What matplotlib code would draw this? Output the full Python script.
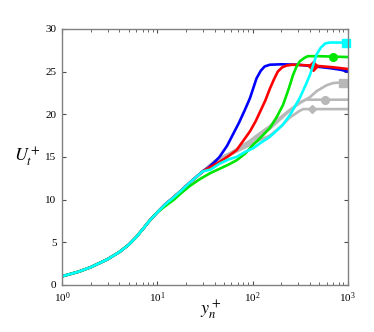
import matplotlib
matplotlib.use('Agg')
import matplotlib.pyplot as plt

plt.rcParams['font.family'] = 'serif'
plt.rcParams['font.serif'] = ['Liberation Serif']
plt.rcParams['mathtext.fontset'] = 'stix'

## profil commun (proche paroi)
base_yp = [1, 1.5, 2, 3, 4, 5, 6, 7, 8.4, 10, 12, 15, 18, 22, 26, 30]
base_U = [1.0, 1.55, 2.07, 3.0, 3.85, 4.7, 5.6, 6.5, 7.6, 8.5, 9.4, 10.3, 11.1, 12.0, 12.7, 13.3]

## suites de chaque courbe
blue_yp = [34, 40, 45, 54, 62, 72, 83, 94, 110, 122, 134, 152, 200, 300, 450, 650, 850, 1000]
blue_U = [13.7, 14.4, 15.0, 16.3, 17.6, 19.0, 20.5, 21.9, 24.2, 25.1, 25.6, 25.8, 25.85, 25.8, 25.6, 25.4, 25.2, 25.0]

red_yp = [36, 45, 56, 68, 80, 94, 108, 120, 136, 152, 168, 184, 205, 228, 260, 433, 700, 1000]
red_U = [13.8, 14.4, 15.1, 15.8, 16.9, 18.0, 19.2, 20.3, 21.6, 23.0, 24.1, 25.0, 25.5, 25.7, 25.8, 25.7, 25.5, 25.3]

green_base_yp = [12, 15, 18, 22, 28, 36, 45, 56]
green_base_U = [9.2, 10.0, 10.8, 11.6, 12.4, 13.1, 13.6, 14.1]
green_yp = [68, 84, 101, 125, 152, 180, 209, 240, 266, 290, 313, 350, 380, 500, 700, 1000]
green_U = [14.6, 15.4, 16.4, 17.4, 18.4, 19.7, 21.1, 23.0, 24.6, 25.6, 26.2, 26.6, 26.8, 26.8, 26.75, 26.7]

cyan_yp = [36, 45, 56, 68, 84, 101, 120, 150, 180, 209, 250, 313, 360, 400, 440, 470, 520, 580, 650, 1000]
cyan_U = [13.5, 14.2, 14.7, 15.0, 15.6, 16.0, 16.6, 17.3, 18.1, 18.8, 20.0, 21.9, 23.4, 24.6, 26.0, 27.0, 27.8, 28.3, 28.4, 28.4]

grayA_yp = [40, 62, 94, 120, 152, 200, 245, 313, 400, 470, 600, 700, 800, 1000]
grayA_U = [14.5, 15.6, 16.9, 17.8, 18.6, 19.7, 20.5, 21.3, 22.0, 22.7, 23.4, 23.65, 23.7, 23.7]
grayA_mark = (890, 23.7)

grayB_yp = [40, 62, 94, 120, 152, 200, 245, 313, 360, 1000]
grayB_U = [14.5, 15.6, 16.7, 17.5, 18.3, 19.5, 20.4, 21.4, 21.7, 21.7]
grayB_mark = (575, 21.7)

grayC_yp = [40, 62, 94, 120, 152, 200, 245, 313, 340, 1000]
grayC_U = [14.4, 15.4, 16.4, 17.0, 17.5, 18.6, 19.6, 20.4, 20.6, 20.6]
grayC_mark = (417, 20.6)

fig = plt.figure(figsize=(3.74, 3.32), dpi=100)
ax = fig.add_axes([0.166, 0.142, 0.764, 0.771])

gris = (0.72, 0.72, 0.72)
lw = 1.9

for yp, U, m, mk, ms in [(grayA_yp, grayA_U, grayA_mark, 's', 5.5),
                         (grayB_yp, grayB_U, grayB_mark, 'o', 5.5),
                         (grayC_yp, grayC_U, grayC_mark, 'D', 4.5)]:
    ax.plot(base_yp + yp, base_U + U, color=gris, lw=lw)
    ax.plot([m[0]], [m[1]], marker=mk, color=gris, ms=ms, ls='none')

ax.plot(base_yp + blue_yp, base_U + blue_U, color=(0, 0, 1), lw=lw)
ax.plot(base_yp + red_yp, base_U + red_U, color=(1, 0, 0), lw=lw)
ax.plot([433], [25.7], marker='D', color=(1, 0, 0), ms=5, ls='none')
ax.plot(base_yp[:10] + green_base_yp + green_yp, base_U[:10] + green_base_U + green_U,
        color=(0, 0.9, 0), lw=lw)
ax.plot([700], [26.75], marker='o', color=(0, 0.9, 0), ms=5.5, ls='none')
ax.plot(base_yp + cyan_yp, base_U + cyan_U, color=(0, 1, 1), lw=lw)
ax.plot([950], [28.4], marker='s', color=(0, 1, 1), ms=5.5, ls='none', clip_on=False)

ax.set_xscale('log')
ax.set_xlim(1, 1000)
ax.set_ylim(0, 30)
ax.set_yticks([0, 5, 10, 15, 20, 25, 30])

for s in ax.spines.values():
    s.set_color((0.5, 0.5, 0.5))
    s.set_linewidth(1.0)
ax.tick_params(which='both', direction='in', top=True, right=True,
               labelsize=8, color=(0.3, 0.3, 0.3), pad=4)
ax.tick_params(which='major', length=3)
ax.tick_params(which='minor', length=2)

ax.set_xlabel(r'$y_n^+$', fontsize=13)
ax.xaxis.set_label_coords(0.52, -0.055, transform=ax.transAxes)
ax.xaxis.label.set_va('top')
ax.set_ylabel(r'$U_t^+$', fontsize=13, rotation=0, va='center')
ax.yaxis.set_label_coords(-0.12, 0.5)

fig.savefig('out.png', dpi=100)
